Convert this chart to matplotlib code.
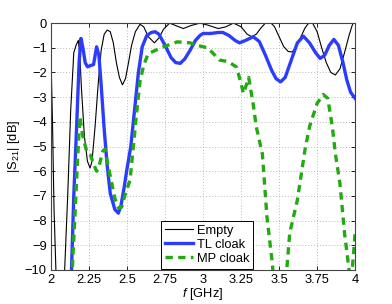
import matplotlib
matplotlib.use("Agg")
import matplotlib.pyplot as plt

plt.rcParams['font.family'] = ['Liberation Sans', 'DejaVu Sans']
plt.rcParams['mathtext.fontset'] = 'custom'
plt.rcParams['mathtext.it'] = 'Liberation Sans:italic'
plt.rcParams['mathtext.rm'] = 'Liberation Sans'

# Empty
f_empty = [2.0, 2.01, 2.02, 2.035, 2.05, 2.07, 2.09, 2.11, 2.13, 2.15, 2.165, 2.18, 2.19, 2.20, 2.22,
           2.24, 2.257, 2.27, 2.29, 2.31, 2.33, 2.35, 2.37, 2.39, 2.41, 2.43, 2.45, 2.47, 2.49,
           2.51, 2.53, 2.555, 2.585, 2.61, 2.64, 2.68, 2.71, 2.74, 2.78, 2.82, 2.87, 2.92, 2.98,
           3.03, 3.10, 3.15, 3.20, 3.25, 3.29, 3.32, 3.35, 3.38, 3.41, 3.44, 3.47, 3.50, 3.53,
           3.56, 3.585, 3.61, 3.64, 3.67, 3.70, 3.72, 3.75, 3.78, 3.81, 3.84, 3.87, 3.90, 3.93,
           3.96, 3.98, 4.0]
s_empty = [-1.3, -4.0, -7.5, -10.5, -12.5, -13.0, -10.0, -7.0, -3.5, -1.2, -0.9, -0.7, -1.3, -2.6, -4.6,
           -5.6, -5.87, -5.6, -4.2, -2.5, -1.1, -0.45, -0.28, -0.35, -0.8, -1.6, -2.2, -2.5, -2.25,
           -1.6, -0.9, -0.35, -0.05, -0.15, -0.55, -0.8, -0.6, -0.25, 0.0, -0.1, -0.22, -0.1, 0.0,
           -0.08, -0.22, -0.15, 0.0, -0.15, -0.45, -0.55, -0.45, -0.2, 0.0, 0.05, -0.15, -0.55, -0.95,
           -1.15, -1.17, -1.0, -0.6, -0.2, 0.05, 0.0, -0.35, -1.0, -1.6, -2.0, -2.1, -1.85, -1.2,
           -0.5, -0.1, 0.2]

# TL cloak
f_tl = [2.0, 2.10, 2.135, 2.15, 2.17, 2.185, 2.197, 2.21, 2.225, 2.24, 2.26, 2.28, 2.30, 2.315,
        2.33, 2.35, 2.37, 2.39, 2.42, 2.443, 2.46, 2.48, 2.50, 2.525, 2.55, 2.575, 2.60, 2.63,
        2.66, 2.685, 2.71, 2.75, 2.79, 2.82, 2.85, 2.88, 2.915, 2.95, 2.98, 3.0, 3.05, 3.10,
        3.13, 3.17, 3.21, 3.24, 3.28, 3.33, 3.37, 3.41, 3.45, 3.48, 3.51, 3.54, 3.58, 3.62,
        3.66, 3.70, 3.74, 3.77, 3.80, 3.83, 3.86, 3.89, 3.92, 3.945, 3.97, 4.0]
s_tl = [-14.0, -12.0, -10.0, -7.0, -4.0, -1.6, -0.62, -1.0, -1.6, -1.77, -1.72, -1.68, -0.96, -1.3,
        -2.5, -4.3, -5.8, -6.9, -7.55, -7.7, -7.4, -6.7, -5.9, -5.0, -3.5, -2.0, -0.96, -0.5,
        -0.38, -0.35, -0.45, -0.9, -1.4, -1.6, -1.63, -1.45, -1.1, -0.7, -0.5, -0.42, -0.42, -0.38,
        -0.38, -0.5, -0.7, -0.8, -0.7, -0.55, -0.75, -1.3, -1.9, -2.25, -2.38, -2.2, -1.5, -0.8,
        -0.53, -0.8, -1.2, -1.43, -1.3, -0.9, -0.66, -0.9, -1.6, -2.3, -2.8, -3.05]

# MP cloak
f_mp = [2.0, 2.10, 2.14, 2.16, 2.175, 2.19, 2.21, 2.235, 2.26, 2.28, 2.30, 2.32, 2.34, 2.355,
        2.38, 2.42, 2.445, 2.465, 2.49, 2.52, 2.54, 2.564, 2.585, 2.61, 2.64, 2.67, 2.74,
        2.83, 2.915, 2.96, 3.03, 3.11, 3.165, 3.22, 3.25, 3.265, 3.285, 3.30, 3.33, 3.35,
        3.39, 3.42, 3.455, 3.48, 3.52, 3.55, 3.57, 3.62, 3.67, 3.70, 3.75, 3.79, 3.82, 3.85,
        3.87, 3.90, 3.93, 3.96, 3.975, 3.99, 4.0]
s_mp = [-14.0, -12.5, -10.0, -7.5, -5.5, -3.8, -4.6, -5.2, -5.35, -5.7, -6.0, -5.7, -5.2, -5.1,
        -5.9, -7.1, -7.5, -7.45, -6.9, -6.36, -5.1, -3.6, -2.38, -1.7, -1.23, -1.15, -0.96,
        -0.76, -0.8, -0.9, -1.0, -1.5, -1.56, -1.78, -2.45, -2.85, -2.5, -2.2, -3.3, -4.2,
        -5.3, -7.85, -9.7, -11.5, -12.0, -10.0, -8.5, -7.17, -5.14, -4.2, -3.25, -2.89, -3.05, -4.2,
        -5.3, -6.5, -8.5, -10.0, -10.4, -9.3, -8.5]

xticks = [2, 2.25, 2.5, 2.75, 3, 3.25, 3.5, 3.75, 4]
xticklabels = ['2', '2.25', '2.5', '2.75', '3', '3.25', '3.5', '3.75', '4']
yticks = list(range(0, -11, -1))
yticklabels = ['0'] + ['\u2212%d' % k for k in range(1, 11)]

FS = 9.3

fig = plt.figure(figsize=(3.92, 3.04), dpi=100)
ax = fig.add_axes([0.130, 0.112, 0.776, 0.812])

ax.plot(f_empty, s_empty, color='black', lw=0.8, label='Empty')
ax.plot(f_tl, s_tl, color='#2b3cff', lw=2.4, label='TL cloak')
ax.plot(f_mp, s_mp, color='#22aa11', lw=2.4, ls=(0, (2.2, 1.6)), label='MP cloak')

ax.set_xlim(2, 4)
ax.set_ylim(-10, 0)
ax.set_xticks(xticks)
ax.set_xticklabels(xticklabels)
ax.set_yticks(yticks)
ax.set_yticklabels(yticklabels)
ax.tick_params(direction='in', top=True, right=True, labelsize=FS, length=3, width=0.6, pad=3)
ax.grid(True, color='#bbbbbb', ls=(0, (1, 2)), lw=0.7)
for sp in ax.spines.values():
    sp.set_linewidth(0.8)
    sp.set_color('#444444')

ax.set_xlabel('$f$ [GHz]', fontsize=FS, labelpad=0)
ax.set_ylabel('|S$_{21}$| [dB]', fontsize=FS, labelpad=2)

leg = ax.legend(loc='lower left', bbox_to_anchor=(0.348, -0.01), fontsize=FS, frameon=True,
                fancybox=False, edgecolor='black', framealpha=1, borderpad=0.3,
                handlelength=2.2, handletextpad=0.3, labelspacing=0.15, borderaxespad=0.3)
leg.get_frame().set_linewidth(0.7)

fig.savefig('out.png', dpi=100)
